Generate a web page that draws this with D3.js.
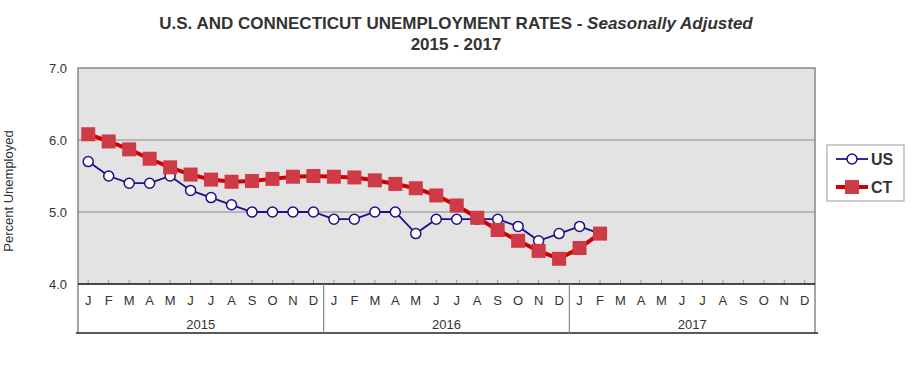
<!DOCTYPE html>
<html>
<head>
<meta charset="utf-8">
<script src="https://cdn.jsdelivr.net/npm/d3@7"></script>
<style>
  body { margin: 0; background: #fff; }
  text { font-family: "Liberation Sans", Arial, sans-serif; fill: #333; }
</style>
</head>
<body>
<div id="viz"></div>
<script>
const years = ["2015", "2016", "2017"];
const monthLetters = ["J", "F", "M", "A", "M", "J", "J", "A", "S", "O", "N", "D"];
const yTicks = [4.0, 5.0, 6.0, 7.0];

// monthly rates, Jan 2015 onward
const us = [5.7, 5.5, 5.4, 5.4, 5.5, 5.3, 5.2, 5.1, 5.0, 5.0, 5.0, 5.0,
            4.9, 4.9, 5.0, 5.0, 4.7, 4.9, 4.9, 4.9, 4.9, 4.8, 4.6, 4.7,
            4.8, 4.7];
const ct = [6.08, 5.98, 5.87, 5.74, 5.62, 5.52, 5.45, 5.42, 5.43, 5.46, 5.49, 5.50,
            5.49, 5.48, 5.44, 5.39, 5.33, 5.23, 5.09, 4.92, 4.75, 4.60, 4.46, 4.35,
            4.50, 4.70];

const width = 919, height = 368;
const margin = { left: 78, right: 104, top: 68, bottom: 84 };
const plotRight = width - margin.right;
const plotBottom = height - margin.bottom;
const axisBottom = 333;

const svg = d3.select("#viz").append("svg")
    .attr("width", width)
    .attr("height", height);

const months = d3.range(years.length * 12);

const xScale = d3.scaleBand()
    .domain(months)
    .range([margin.left, plotRight]);

const yScale = d3.scaleLinear()
    .domain([4, 7])
    .range([plotBottom, margin.top]);

const cx = i => xScale(i) + xScale.bandwidth() / 2;

// title
svg.append("text")
    .attr("x", 456).attr("y", 29)
    .attr("text-anchor", "middle")
    .style("font-size", "17px").style("font-weight", "bold")
    .call(t => {
        t.append("tspan").text("U.S. AND CONNECTICUT UNEMPLOYMENT RATES - ");
        t.append("tspan").style("font-style", "italic").text("Seasonally Adjusted");
    });

svg.append("text")
    .attr("x", 456).attr("y", 50)
    .attr("text-anchor", "middle")
    .style("font-size", "17px").style("font-weight", "bold")
    .text("2015 - 2017");

// plot background
svg.append("rect")
    .attr("x", margin.left).attr("y", margin.top)
    .attr("width", plotRight - margin.left)
    .attr("height", plotBottom - margin.top)
    .attr("fill", "#e3e3e3");

// grid lines
svg.selectAll(".grid")
    .data(yTicks.slice(1, 3))
    .join("line")
        .attr("class", "grid")
        .attr("x1", margin.left).attr("x2", plotRight)
        .attr("y1", d => yScale(d)).attr("y2", d => yScale(d))
        .attr("stroke", "#888").attr("stroke-width", 1);

// frame
svg.append("path")
    .attr("d", `M${margin.left},${axisBottom}V${margin.top}H${plotRight}V${axisBottom}`)
    .attr("fill", "none")
    .attr("stroke", "#888").attr("stroke-width", 1.5);

// y labels
svg.selectAll(".ylab")
    .data(yTicks)
    .join("text")
        .attr("class", "ylab")
        .attr("x", 67)
        .attr("y", d => yScale(d) + 4.5)
        .attr("text-anchor", "end")
        .style("font-size", "13px")
        .text(d => d.toFixed(1));

svg.append("text")
    .attr("transform", "translate(13,191) rotate(-90)")
    .attr("text-anchor", "middle")
    .style("font-size", "13px")
    .text("Percent Unemployed");

// month ticks
svg.selectAll(".tick")
    .data(months)
    .join("line")
        .attr("class", "tick")
        .attr("x1", d => cx(d)).attr("x2", d => cx(d))
        .attr("y1", plotBottom - 4).attr("y2", plotBottom)
        .attr("stroke", "#999");

// axis lines
svg.append("line")
    .attr("x1", margin.left).attr("x2", plotRight)
    .attr("y1", plotBottom).attr("y2", plotBottom)
    .attr("stroke", "#111").attr("stroke-width", 1.5);

svg.append("line")
    .attr("x1", margin.left - 2).attr("x2", plotRight + 3)
    .attr("y1", axisBottom).attr("y2", axisBottom)
    .attr("stroke", "#222").attr("stroke-width", 1.5);

// year separators
svg.selectAll(".sep")
    .data(years.slice(1))
    .join("line")
        .attr("class", "sep")
        .attr("x1", (d, i) => xScale((i + 1) * 12)).attr("x2", (d, i) => xScale((i + 1) * 12))
        .attr("y1", plotBottom).attr("y2", axisBottom)
        .attr("stroke", "#888").attr("stroke-width", 1.2);

// month labels
svg.selectAll(".mlab")
    .data(months)
    .join("text")
        .attr("class", "mlab")
        .attr("x", d => cx(d))
        .attr("y", 305)
        .attr("text-anchor", "middle")
        .style("font-size", "13px")
        .text(d => monthLetters[d % 12]);

// year labels
svg.selectAll(".yrlab")
    .data(years)
    .join("text")
        .attr("class", "yrlab")
        .attr("x", (d, i) => (xScale(i * 12) + xScale(i * 12 + 11) + xScale.bandwidth()) / 2)
        .attr("y", 329)
        .attr("text-anchor", "middle")
        .style("font-size", "13px")
        .text(d => d);

const line = d3.line()
    .x((d, i) => cx(i))
    .y(d => yScale(d));

// US series
svg.append("path")
    .datum(us)
    .attr("d", line)
    .attr("fill", "none")
    .attr("stroke", "#1f0f8a").attr("stroke-width", 1.8);

// CT series
svg.append("path")
    .datum(ct)
    .attr("d", line)
    .attr("fill", "none")
    .attr("stroke", "#d00000").attr("stroke-width", 4);

svg.selectAll(".us-pt")
    .data(us)
    .join("circle")
        .attr("class", "us-pt")
        .attr("cx", (d, i) => cx(i))
        .attr("cy", d => yScale(d))
        .attr("r", 5)
        .attr("fill", "#fff")
        .attr("stroke", "#1f0f8a").attr("stroke-width", 1.5);

const sq = 14;
svg.selectAll(".ct-pt")
    .data(ct)
    .join("rect")
        .attr("class", "ct-pt")
        .attr("x", (d, i) => cx(i) - sq / 2)
        .attr("y", d => yScale(d) - sq / 2)
        .attr("width", sq).attr("height", sq)
        .attr("fill", "#cf3a47");

// legend
const legend = svg.append("g").attr("transform", "translate(827,145)");
legend.append("rect")
    .attr("width", 77).attr("height", 56)
    .attr("fill", "#fff")
    .attr("stroke", "#999");

const legendItems = [
    { name: "US", y: 14 },
    { name: "CT", y: 42 }
];

legend.selectAll(".leg-line")
    .data(legendItems)
    .join("line")
        .attr("x1", 9).attr("x2", 41)
        .attr("y1", d => d.y).attr("y2", d => d.y)
        .attr("stroke", d => d.name === "US" ? "#1f0f8a" : "#d00000")
        .attr("stroke-width", d => d.name === "US" ? 1.8 : 4);

legend.append("circle")
    .attr("cx", 25).attr("cy", 14).attr("r", 5)
    .attr("fill", "#fff").attr("stroke", "#1f0f8a").attr("stroke-width", 1.5);

legend.append("rect")
    .attr("x", 25 - sq / 2).attr("y", 42 - sq / 2)
    .attr("width", sq).attr("height", sq)
    .attr("fill", "#cf3a47");

legend.selectAll(".leg-text")
    .data(legendItems)
    .join("text")
        .attr("x", 44)
        .attr("y", d => d.y + 6)
        .style("font-size", "16px").style("font-weight", "bold")
        .text(d => d.name);
</script>
</body>
</html>
